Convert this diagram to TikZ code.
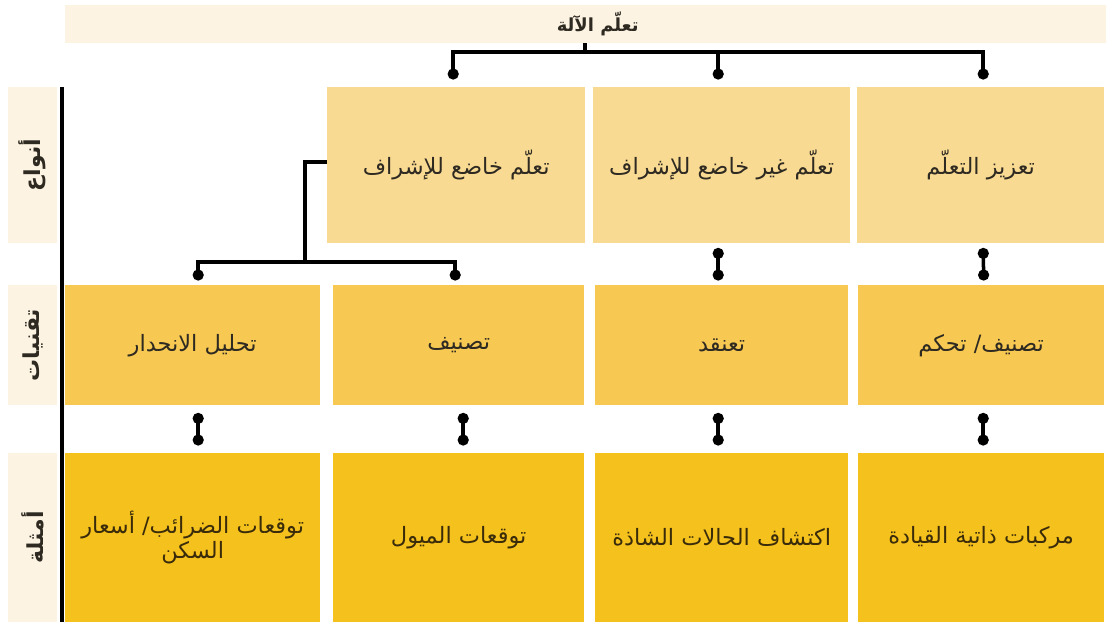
\documentclass[tikz,border=0pt]{standalone}
\usepackage{fontspec}
\usetikzlibrary{arrows.meta,calc}
\TeXXeTstate=1
\newfontfamily\arabicfont[Script=Arabic]{DejaVu Sans}
\definecolor{creamc}{HTML}{FCF3E2}
\definecolor{rowa}{HTML}{F9DA93}
\definecolor{rowb}{HTML}{F7C953}
\definecolor{rowc}{HTML}{F5C11D}
\definecolor{txtc}{HTML}{2E2A22}
\definecolor{txtd}{HTML}{3A2C0B}
\tikzset{
  cell/.style={anchor=north west, inner sep=0pt, align=center, text=txtc,
    font=\arabicfont\fontsize{22.5}{25}\selectfont},
  sidelab/.style={rotate=90, inner sep=0pt, fill=creamc,
    minimum height=49pt, text=txtc, font=\arabicfont\bfseries\fontsize{22}{24}\selectfont},
  wire/.style={line width=3.5pt, black},
  dot/.tip={Circle[length=11pt,width=11pt]},
}
\begin{document}
\begin{tikzpicture}[x=1pt,y=-1pt]
\useasboundingbox (0,0) rectangle (1106,625);
% title
\node[anchor=north west, inner sep=0pt, fill=creamc, minimum width=1041pt, minimum height=38pt,
  text=txtc, font=\arabicfont\bfseries\fontsize{18}{20}\selectfont] (title) at (65,5)
  {\hspace*{24pt}\beginR تعلّم الآلة\endR};
% side labels
\node[sidelab, minimum width=156pt] (s1) at (32.5,165) {\beginR أنواع\endR};
\node[sidelab, minimum width=120pt] (s2) at (32.5,345) {\beginR تقنيات\endR};
\node[sidelab, minimum width=169pt] (s3) at (32.5,537.5) {\beginR أمثلة\endR};
\draw[line width=3.5pt] (62,87) coordinate (vtop) -- (62,622) coordinate (vbot);
% row 1
\node[cell, fill=rowa, minimum width=258pt, minimum height=156pt] (t2) at (327,87) {\beginR تعلّم خاضع للإشراف\endR};
\node[cell, fill=rowa, minimum width=257pt, minimum height=156pt] (t3) at (593,87) {\beginR تعلّم غير خاضع للإشراف\endR};
\node[cell, fill=rowa, minimum width=247pt, minimum height=156pt] (t4) at (857,87) {\beginR تعزيز التعلّم\endR};
% row 2
\node[cell, fill=rowb, minimum width=255pt, minimum height=120pt] (k1) at (65,285) {\beginR تحليل الانحدار\endR};
\node[cell, fill=rowb, minimum width=251pt, minimum height=120pt] (k2) at (333,285) {\beginR تصنيف\endR};
\node[cell, fill=rowb, minimum width=253pt, minimum height=120pt] (k3) at (595,285) {\beginR تعنقد\endR};
\node[cell, fill=rowb, minimum width=246pt, minimum height=120pt] (k4) at (858,285) {\beginR تصنيف/ تحكم\endR};
% row 3
\node[cell, fill=rowc, text=txtd, minimum width=255pt, minimum height=169pt] (e1) at (65,453) {\beginR توقعات الضرائب/ أسعار\endR\\\beginR السكن\endR};
\node[cell, fill=rowc, text=txtd, minimum width=251pt, minimum height=169pt] (e2) at (333,453) {\beginR توقعات الميول\endR};
\node[cell, fill=rowc, text=txtd, minimum width=253pt, minimum height=169pt] (e3) at (595,453) {\beginR اكتشاف الحالات الشاذة\endR};
\node[cell, fill=rowc, text=txtd, minimum width=246pt, minimum height=169pt] (e4) at (858,453) {\beginR مركبات ذاتية القيادة\endR};
% top tree
\coordinate (hub) at (585,52);
\draw[wire] (title.south -| hub) -- (hub);
\draw[wire,-dot] (hub) -| ([xshift=-3pt,yshift=7.5pt]t2.north);
\draw[wire,-dot] (hub) -| ([xshift=2.5pt,yshift=7.5pt]t4.north);
\draw[wire,-dot] ([xshift=-3.5pt]t3.north |- hub) -- ([xshift=-3.5pt,yshift=7.5pt]t3.north);
% row1 -> row2
\draw[wire,dot-dot] ([xshift=-3.5pt,yshift=-4.5pt]t3.south) -- ([xshift=-3.5pt,yshift=4.5pt]k3.north);
\draw[wire,dot-dot] ([xshift=2.5pt,yshift=-4.5pt]t4.south) -- ([xshift=2.5pt,yshift=4.5pt]k4.north);
% supervised branch
\coordinate (sj) at (305,262);
\draw[wire] ([yshift=3pt]t2.west) -| (sj);
\draw[wire,-dot] (sj) -| ([xshift=5.5pt,yshift=4.5pt]k1.north);
\draw[wire,-dot] (sj) -| ([xshift=-3.5pt,yshift=4.5pt]k2.north);
% row2 -> row3
\draw[wire,dot-dot] ([xshift=5.5pt,yshift=-7.5pt]k1.south) -- ([xshift=5.5pt,yshift=7.5pt]e1.north);
\draw[wire,dot-dot] ([xshift=4.5pt,yshift=-7.5pt]k2.south) -- ([xshift=4.5pt,yshift=7.5pt]e2.north);
\draw[wire,dot-dot] ([xshift=-3.5pt,yshift=-7.5pt]k3.south) -- ([xshift=-3.5pt,yshift=7.5pt]e3.north);
\draw[wire,dot-dot] ([xshift=2pt,yshift=-7.5pt]k4.south) -- ([xshift=2pt,yshift=7.5pt]e4.north);
\end{tikzpicture}
\end{document}
